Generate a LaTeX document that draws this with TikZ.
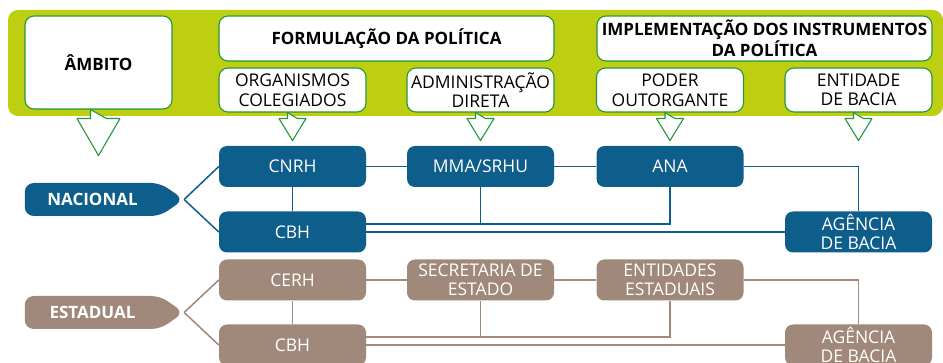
\documentclass[tikz,border=0pt]{standalone}
\usepackage{fontspec}
\setmainfont{Open Sans}
\usetikzlibrary{shapes.symbols}
\definecolor{lima}{RGB}{189,207,16}
\definecolor{verde}{RGB}{38,150,62}
\definecolor{azul}{RGB}{14,94,140}
\definecolor{terra}{RGB}{160,137,122}
\begin{document}
\begin{tikzpicture}[x=1pt,y=-1pt,
    cabeca/.style={draw=verde,line width=1.1pt,fill=white,rounded corners=9pt,
      minimum width=147pt,minimum height=44pt,align=center,inner sep=1pt,
      font=\fontsize{17}{18}\selectfont\bfseries},
    subcabeca/.style={cabeca,font=\fontsize{17.5}{19.5}\selectfont},
    caixa/.style={rounded corners=8pt,minimum width=147pt,minimum height=41pt,
      align=center,inner sep=1pt,text=white,font=\fontsize{17.5}{19}\selectfont},
    nac/.style={caixa,fill=azul},
    est/.style={caixa,fill=terra},
    nivel/.style={signal,signal to=east,signal pointer angle=70,rounded corners=9pt,
      minimum width=159pt,minimum height=33pt,inner sep=0pt,text=white,
      font=\fontsize{17}{18}\selectfont\bfseries},
    seta/.style={draw=verde,line width=1.1pt,fill=white,line join=round}]
  \useasboundingbox (0,0) rectangle (943,363);
  \fill[lima,rounded corners=10pt] (8,10) rectangle (943,116);

  % cabecalho
  \node[cabeca,minimum height=93pt] (amb) at (98.5,62.5) {ÂMBITO};
  \node[cabeca,minimum width=335pt,minimum height=45pt] (form) at (386.5,38.5) {FORMULAÇÃO DA POLÍTICA};
  \node[cabeca,minimum width=335pt,minimum height=45pt] (impl) at (764.5,38.5) {IMPLEMENTAÇÃO DOS INSTRUMENTOS\\DA POLÍTICA};
  \node[subcabeca] (org) at (292.5,90) {ORGANISMOS\\COLEGIADOS};
  \node[subcabeca] (adm) at (480.5,90) {ADMINISTRAÇÃO\\DIRETA};
  \node[subcabeca] (pod) at (670,90) {PODER\\OUTORGANTE};
  \node[subcabeca] (ent) at (858.5,90) {ENTIDADE\\DE BACIA};

  \draw[seta] ([xshift=-8pt]amb.south) -- ++(0,9) -- ++(-13.5,0) -- ++(21.5,37) -- ++(21.5,-37) -- ++(-13.5,0) -- cycle;
  \draw[seta] ([xshift=-5pt]org.south) -- ++(0,6) -- ++(-8.5,0) -- ++(13.5,22) -- ++(13.5,-22) -- ++(-8.5,0) -- cycle;
  \draw[seta] ([xshift=-5pt]adm.south) -- ++(0,6) -- ++(-8.5,0) -- ++(13.5,22) -- ++(13.5,-22) -- ++(-8.5,0) -- cycle;
  \draw[seta] ([xshift=-5pt]pod.south) -- ++(0,6) -- ++(-8.5,0) -- ++(13.5,22) -- ++(13.5,-22) -- ++(-8.5,0) -- cycle;
  \draw[seta] ([xshift=-5pt]ent.south) -- ++(0,6) -- ++(-8.5,0) -- ++(13.5,22) -- ++(13.5,-22) -- ++(-8.5,0) -- cycle;

  % nacional
  \node[nivel,fill=azul] (nacional) at (92.5,199.5) {NACIONAL};
  \node[nac] (cnrh) at (292.5,166.5) {CNRH};
  \node[nac] (cbhn) at (292.5,232) {CBH};
  \node[nac] (mma) at (480.5,166.5) {MMA/SRHU};
  \node[nac] (ana) at (670,166.5) {ANA};
  \node[nac] (agn) at (858.5,232) {AGÊNCIA\\DE BACIA};
  \coordinate (nbus) at ([yshift=8pt]cbhn.east);
  \begin{scope}[azul,line width=1.5pt]
    \draw (nacional.east) to (cnrh.west);
    \draw (nacional.east) to (cbhn.west);
    \draw (cnrh) to (cbhn);
    \draw (cnrh) to (mma);
    \draw (mma) to (ana);
    \draw (ana.east) -| (agn.north);
    \draw (nbus) -| (ana.south);
    \draw (mma.south) to (mma.south |- nbus);
    \draw (cbhn.east) to (agn.west);
  \end{scope}

  % estadual
  \node[nivel,fill=terra] (estadual) at (92.5,312.5) {ESTADUAL};
  \node[est] (cerh) at (292.5,280) {CERH};
  \node[est] (cbhe) at (292.5,345) {CBH};
  \node[est] (sec) at (480.5,280) {SECRETARIA DE\\ESTADO};
  \node[est] (ente) at (670,280) {ENTIDADES\\ESTADUAIS};
  \node[est] (age) at (858.5,345) {AGÊNCIA\\DE BACIA};
  \coordinate (ebus) at ([yshift=8pt]cbhe.east);
  \begin{scope}[terra,line width=1.5pt]
    \draw (estadual.east) to (cerh.west);
    \draw (estadual.east) to (cbhe.west);
    \draw (cerh) to (cbhe);
    \draw (cerh) to (sec);
    \draw (sec) to (ente);
    \draw (ente.east) -| (age.north);
    \draw (ebus) -| (ente.south);
    \draw (sec.south) to (sec.south |- ebus);
    \draw (cbhe.east) to (age.west);
  \end{scope}
\end{tikzpicture}
\end{document}
